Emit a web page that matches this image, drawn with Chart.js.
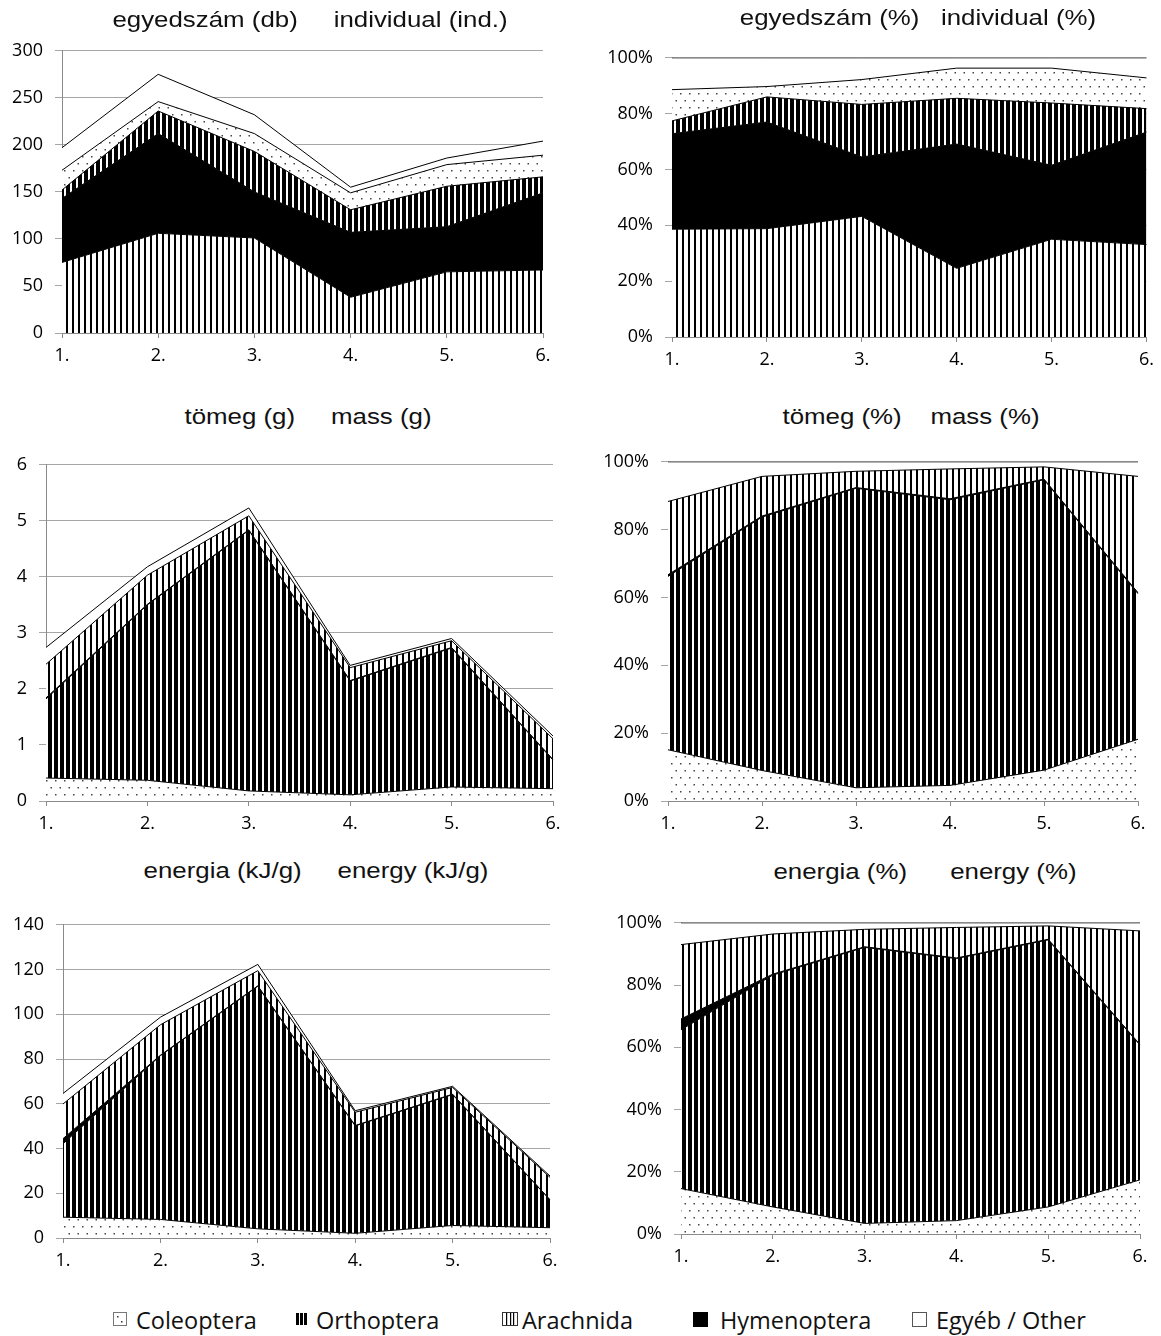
<!DOCTYPE html>
<html>
<head>
<meta charset="utf-8">
<script src="https://cdn.jsdelivr.net/npm/chart.js@4.4.1/dist/chart.umd.min.js"></script>
<style>
  body { margin: 0; background: #fff; width: 1161px; height: 1336px; position: relative; overflow: hidden; }
  canvas.chart { position: absolute; }
  .title { position: absolute; width: 600px; text-align: center; white-space: pre; font-family: "Liberation Sans", Arial, sans-serif; font-size: 22px; line-height: 26px; color: #111; transform: scaleX(1.175); }
  .legtext { position: absolute; top: 1304px; font-family: "Open Sans", sans-serif; font-size: 23.5px; line-height: 32px; color: #111; white-space: nowrap; }
  canvas.legicon { position: absolute; top: 1312px; }
</style>
</head>
<body>
<script>
const sites = ["1.", "2.", "3.", "4.", "5.", "6."];

// egyedszám (db) / individual (ind.)
const indArachnida = [75, 106, 101, 38, 65, 67];
const indHymenoptera = [68, 106, 49, 69, 48, 82];
const indOrthoptera = [9, 24, 43, 24, 43, 17];
const indColeoptera = [21, 10, 19, 18, 23, 23];
const indOther = [24, 29, 20, 6, 7, 15];

// egyedszám (%) / individual (%)
const indPctArachnida = [38.6, 38.8, 43.2, 24.6, 35.0, 33.1];
const indPctHymenoptera = [34.2, 38.2, 21.3, 44.5, 26.5, 40.3];
const indPctOrthoptera = [4.6, 9.0, 18.8, 16.4, 22.3, 8.4];
const indPctColeoptera = [11.2, 3.7, 8.9, 10.8, 12.5, 11.0];
const indPctOther = [11.4, 10.3, 7.8, 3.7, 3.7, 7.2];

// tömeg (g) / mass (g)
const massColeoptera = [0.41, 0.37, 0.18, 0.11, 0.25, 0.22];
const massOrthoptera = [1.41, 3.13, 4.65, 2.03, 2.48, 0.51];
const massHymenoptera = [0.02, 0.01, 0.01, 0.01, 0.01, 0.01];
const massArachnida = [0.60, 0.52, 0.25, 0.23, 0.12, 0.37];
const massOther = [0.30, 0.15, 0.14, 0.04, 0.04, 0.05];

// tömeg (%) / mass (%)
const massPctColeoptera = [15.1, 9.0, 3.9, 4.6, 9.1, 18.2];
const massPctOrthoptera = [51.1, 74.7, 88.3, 84.2, 85.6, 42.9];
const massPctHymenoptera = [0.5, 0.3, 0.2, 0.3, 0.2, 0.3];
const massPctArachnida = [21.6, 11.7, 4.8, 8.8, 3.6, 34.3];
const massPctOther = [11.7, 4.3, 2.8, 2.1, 1.5, 4.3];

// energia (kJ/g) / energy (kJ/g)
const enColeoptera = [9.3, 8.3, 4.1, 2.1, 5.6, 4.6];
const enOrthoptera = [32.8, 73.2, 108.4, 48.0, 58.5, 12.4];
const enHymenoptera = [2.3, 0.2, 0.2, 0.2, 0.2, 0.1];
const enArachnida = [15.5, 13.6, 6.8, 5.9, 3.0, 10.0];
const enOther = [4.7, 3.4, 2.8, 0.7, 0.5, 0.6];

// energia (%) / energy (%)
const enPctColeoptera = [14.6, 8.7, 3.4, 4.3, 8.7, 17.4];
const enPctOrthoptera = [51.0, 74.5, 88.7, 84.2, 85.8, 43.3];
const enPctHymenoptera = [3.5, 0.3, 0.2, 0.2, 0.2, 0.2];
const enPctArachnida = [23.9, 12.9, 5.6, 9.8, 4.3, 36.5];
const enPctOther = [7.0, 3.6, 2.1, 1.5, 1.0, 2.6];

const legendNames = ["Coleoptera", "Orthoptera", "Arachnida", "Hymenoptera", "Egyéb / Other"];

// hatch patterns like the old excel fills
function tile(w, h, draw) {
  const c = document.createElement("canvas");
  c.width = w; c.height = h;
  const g = c.getContext("2d");
  draw(g);
  return c;
}
const dotsTile = tile(9, 14, g => {
  g.fillStyle = "#fff"; g.fillRect(0, 0, 9, 14);
  g.fillStyle = "#444";
  g.fillRect(1, 2, 1.5, 1.5);
  g.fillRect(5.5, 9, 1.5, 1.5);
});
const orthTile = tile(6, 4, g => {
  g.fillStyle = "#000"; g.fillRect(0, 0, 6, 4);
  g.fillStyle = "#fff"; g.fillRect(4, 0, 2, 4);
});
const arachTile = tile(6, 4, g => {
  g.fillStyle = "#fff"; g.fillRect(0, 0, 6, 4);
  g.fillStyle = "#000"; g.fillRect(0, 0, 2, 4);
});

function fills(ctx) {
  return {
    Coleoptera: ctx.createPattern(dotsTile, "repeat"),
    Orthoptera: ctx.createPattern(orthTile, "repeat"),
    Arachnida: ctx.createPattern(arachTile, "repeat"),
    Hymenoptera: "#000",
    Other: "#fff"
  };
}

const tickFont = { family: "Open Sans", size: 18 };
const axisGray = "#8a8a8a";

function makeChart(box, plot, series, order, yMax, yStep, pct) {
  const cv = document.createElement("canvas");
  cv.className = "chart";
  cv.width = box.w; cv.height = box.h;
  cv.style.left = box.x + "px"; cv.style.top = box.y + "px";
  cv.style.width = box.w + "px"; cv.style.height = box.h + "px";
  document.body.appendChild(cv);
  const ctx = cv.getContext("2d");
  const f = fills(ctx);
  const yW = plot.l - box.x;
  const padT = plot.t - box.y;
  const padR = box.x + box.w - plot.r;
  const xH = box.y + box.h - plot.b;

  new Chart(ctx, {
    type: "line",
    data: {
      labels: sites,
      datasets: order.map((name, i) => ({
        label: name,
        data: series[name],
        backgroundColor: f[name],
        borderColor: "#000",
        borderWidth: 1,
        pointRadius: 0,
        tension: 0,
        fill: i === 0 ? "origin" : "-1"
      }))
    },
    options: {
      responsive: false,
      animation: false,
      layout: { padding: { left: 0, top: padT, right: padR, bottom: 0 } },
      plugins: { legend: { display: false }, tooltip: { enabled: false } },
      scales: {
        x: {
          offset: false,
          grid: { display: true, drawOnChartArea: false, drawTicks: true, tickLength: 5, color: axisGray },
          border: { color: axisGray },
          ticks: { font: tickFont, color: "#000", padding: 7, maxRotation: 0, autoSkip: false },
          afterFit: s => { s.height = xH; }
        },
        y: {
          stacked: true,
          min: 0,
          max: yMax,
          grid: { color: "#a6a6a6", tickLength: 7 },
          border: { color: axisGray },
          ticks: {
            stepSize: yStep,
            font: tickFont,
            color: "#000",
            padding: 12,
            callback: v => pct ? v + "%" : v
          },
          afterFit: s => { s.width = yW; }
        }
      }
    }
  });
}

function addTitle(text, cx, cy) {
  const d = document.createElement("div");
  d.className = "title";
  d.textContent = text;
  d.style.left = (cx - 300) + "px";
  d.style.top = (cy - 13) + "px";
  document.body.appendChild(d);
}

const countOrder = ["Arachnida", "Hymenoptera", "Orthoptera", "Coleoptera", "Other"];
const bioOrder = ["Coleoptera", "Orthoptera", "Hymenoptera", "Arachnida", "Other"];

makeChart({ x: 0, y: 28, w: 580, h: 350 }, { l: 62, r: 543, t: 48, b: 333 },
  { Arachnida: indArachnida, Hymenoptera: indHymenoptera, Orthoptera: indOrthoptera, Coleoptera: indColeoptera, Other: indOther },
  countOrder, 300, 50, false);
makeChart({ x: 580, y: 35, w: 581, h: 347 }, { l: 672, r: 1148, t: 55, b: 337 },
  { Arachnida: indPctArachnida, Hymenoptera: indPctHymenoptera, Orthoptera: indPctOrthoptera, Coleoptera: indPctColeoptera, Other: indPctOther },
  countOrder, 100, 20, true);
makeChart({ x: 0, y: 442, w: 580, h: 403 }, { l: 46, r: 553, t: 462, b: 801 },
  { Coleoptera: massColeoptera, Orthoptera: massOrthoptera, Hymenoptera: massHymenoptera, Arachnida: massArachnida, Other: massOther },
  bioOrder, 6, 1, false);
makeChart({ x: 580, y: 439, w: 581, h: 406 }, { l: 668, r: 1138, t: 459, b: 801 },
  { Coleoptera: massPctColeoptera, Orthoptera: massPctOrthoptera, Hymenoptera: massPctHymenoptera, Arachnida: massPctArachnida, Other: massPctOther },
  bioOrder, 100, 20, true);
makeChart({ x: 0, y: 902, w: 580, h: 381 }, { l: 63, r: 550, t: 922, b: 1238 },
  { Coleoptera: enColeoptera, Orthoptera: enOrthoptera, Hymenoptera: enHymenoptera, Arachnida: enArachnida, Other: enOther },
  bioOrder, 140, 20, false);
makeChart({ x: 580, y: 900, w: 581, h: 378 }, { l: 681, r: 1140, t: 920, b: 1234 },
  { Coleoptera: enPctColeoptera, Orthoptera: enPctOrthoptera, Hymenoptera: enPctHymenoptera, Arachnida: enPctArachnida, Other: enPctOther },
  bioOrder, 100, 20, true);

addTitle("egyedszám (db)     individual (ind.)", 310, 20);
addTitle("egyedszám (%)   individual (%)", 918, 18);
addTitle("tömeg (g)     mass (g)", 308, 417);
addTitle("tömeg (%)    mass (%)", 911, 417);
addTitle("energia (kJ/g)     energy (kJ/g)", 316, 871);
addTitle("energia (%)      energy (%)", 925, 872);

// shared legend under the six panels
const legendIcons = [
  { x: 113, text: 136, draw: g => { g.fillStyle = "#fff"; g.fillRect(0, 0, 14, 14); g.strokeStyle = "#777"; g.strokeRect(0.5, 0.5, 13, 13); g.fillStyle = "#333"; g.fillRect(4, 4, 1.5, 1.5); g.fillRect(8, 9, 1.5, 1.5); } },
  { x: 295, text: 316, draw: g => { g.fillStyle = "#000"; [1, 5, 9].forEach(x => g.fillRect(x, 1, 3, 12)); } },
  { x: 502, text: 522, draw: g => { g.fillStyle = "#fff"; g.fillRect(0, 0, 16, 14); g.strokeStyle = "#333"; g.strokeRect(0.5, 0.5, 15, 13); g.fillStyle = "#000"; [4, 8, 11].forEach(x => g.fillRect(x, 1, 1.2, 12)); } },
  { x: 693, text: 720, draw: g => { g.fillStyle = "#000"; g.fillRect(0, 0, 15, 15); } },
  { x: 912, text: 936, draw: g => { g.fillStyle = "#fff"; g.fillRect(0, 0, 15, 15); g.strokeStyle = "#555"; g.strokeRect(0.5, 0.5, 14, 14); } }
];
legendIcons.forEach((it, i) => {
  const c = document.createElement("canvas");
  c.className = "legicon";
  c.width = 16; c.height = 15;
  c.style.left = it.x + "px";
  it.draw(c.getContext("2d"));
  document.body.appendChild(c);
  const s = document.createElement("span");
  s.className = "legtext";
  s.style.left = it.text + "px";
  s.textContent = legendNames[i];
  document.body.appendChild(s);
});
</script>
</body>
</html>
